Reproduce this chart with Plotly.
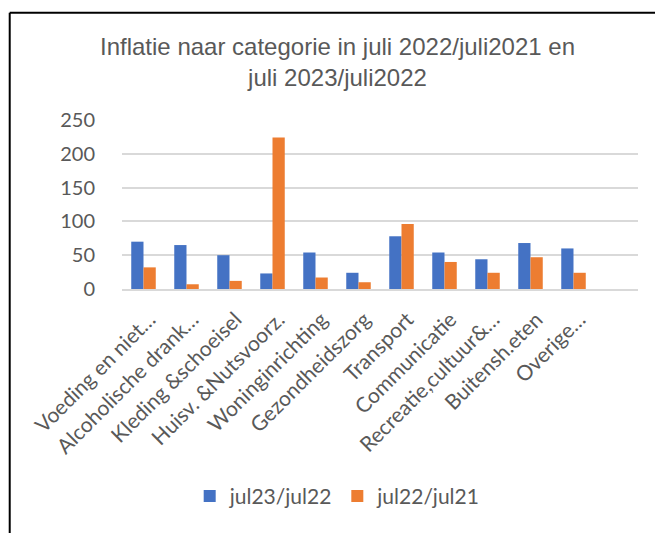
import plotly.graph_objects as go

# data
categories = [
    "Voeding en niet…", "Alcoholische drank…", "Kleding &schoeisel",
    "Huisv. &Nutsvoorz.", "Woninginrichting", "Gezondheidszorg",
    "Transport", "Communicatie", "Recreatie,cultuur&…",
    "Buitensh.eten", "Overige…", " ",
]
jul23_jul22 = [70, 65, 50, 23, 54, 24, 78, 54, 44, 68, 60, None]
jul22_jul21 = [32, 7, 12, 224, 17, 10, 96, 40, 24, 47, 24, None]

blue = '#4472C4'
orange = '#ED7D31'
grey_text = '#595959'
grid = '#D9D9D9'
body_font = 'Lato'

fig = go.Figure()

fig.add_trace(go.Bar(
    name='jul23/jul22',
    x=categories,
    y=jul23_jul22,
    marker=dict(color=blue, line=dict(width=0)),
))

fig.add_trace(go.Bar(
    name='jul22/jul21',
    x=categories,
    y=jul22_jul21,
    marker=dict(color=orange, line=dict(width=0)),
))

# chart frame (only left and top edges are visible in the reference)
fig.add_shape(type='line', xref='paper', yref='paper',
              x0=-0.2176, x1=-0.2176, y0=-1.6, y1=1.634,
              line=dict(color='black', width=2))
fig.add_shape(type='line', xref='paper', yref='paper',
              x0=-0.2176, x1=1.1, y0=1.634, y1=1.634,
              line=dict(color='black', width=2))

# the page body adds an 8px margin, so the figure is a bit smaller than the window
fig.update_layout(
    width=655,
    height=525,
    margin=dict(l=113.5, r=24.5, t=111.5, b=244, autoexpand=False),
    paper_bgcolor='white',
    plot_bgcolor='white',
    barmode='group',
    bargap=0.43,
    bargroupgap=0,
    title=dict(
        text='Inflatie naar categorie in juli 2022/juli2021 en<br>juli 2023/juli2022',
        x=(337.5 - 8) / 655,
        xanchor='center',
        y=1 - 47 / 525,
        yanchor='top',
        font=dict(family='Liberation Sans', size=24, color=grey_text),
    ),
    xaxis=dict(
        tickangle=-45,
        tickfont=dict(family=body_font, size=21, color=grey_text),
        ticklabelstandoff=8,
        ticklabelshift=6,
        showgrid=False,
        showline=True,
        linecolor=grid,
        linewidth=2,
        ticks='',
        automargin=False,
    ),
    yaxis=dict(
        range=[0, 250],
        dtick=50,
        tickfont=dict(family=body_font, size=20, color=grey_text),
        showgrid=True,
        gridcolor=grid,
        gridwidth=2,
        zeroline=False,
        showline=False,
        ticks='outside',
        ticklen=22,
        tickcolor='rgba(0,0,0,0)',
        automargin=False,
    ),
    legend=dict(
        orientation='h',
        x=0.418,
        xanchor='center',
        y=-1.227,
        yanchor='middle',
        font=dict(family=body_font, size=21, color=grey_text),
        itemclick=False,
    ),
    showlegend=True,
)

fig.write_html("out.html")
